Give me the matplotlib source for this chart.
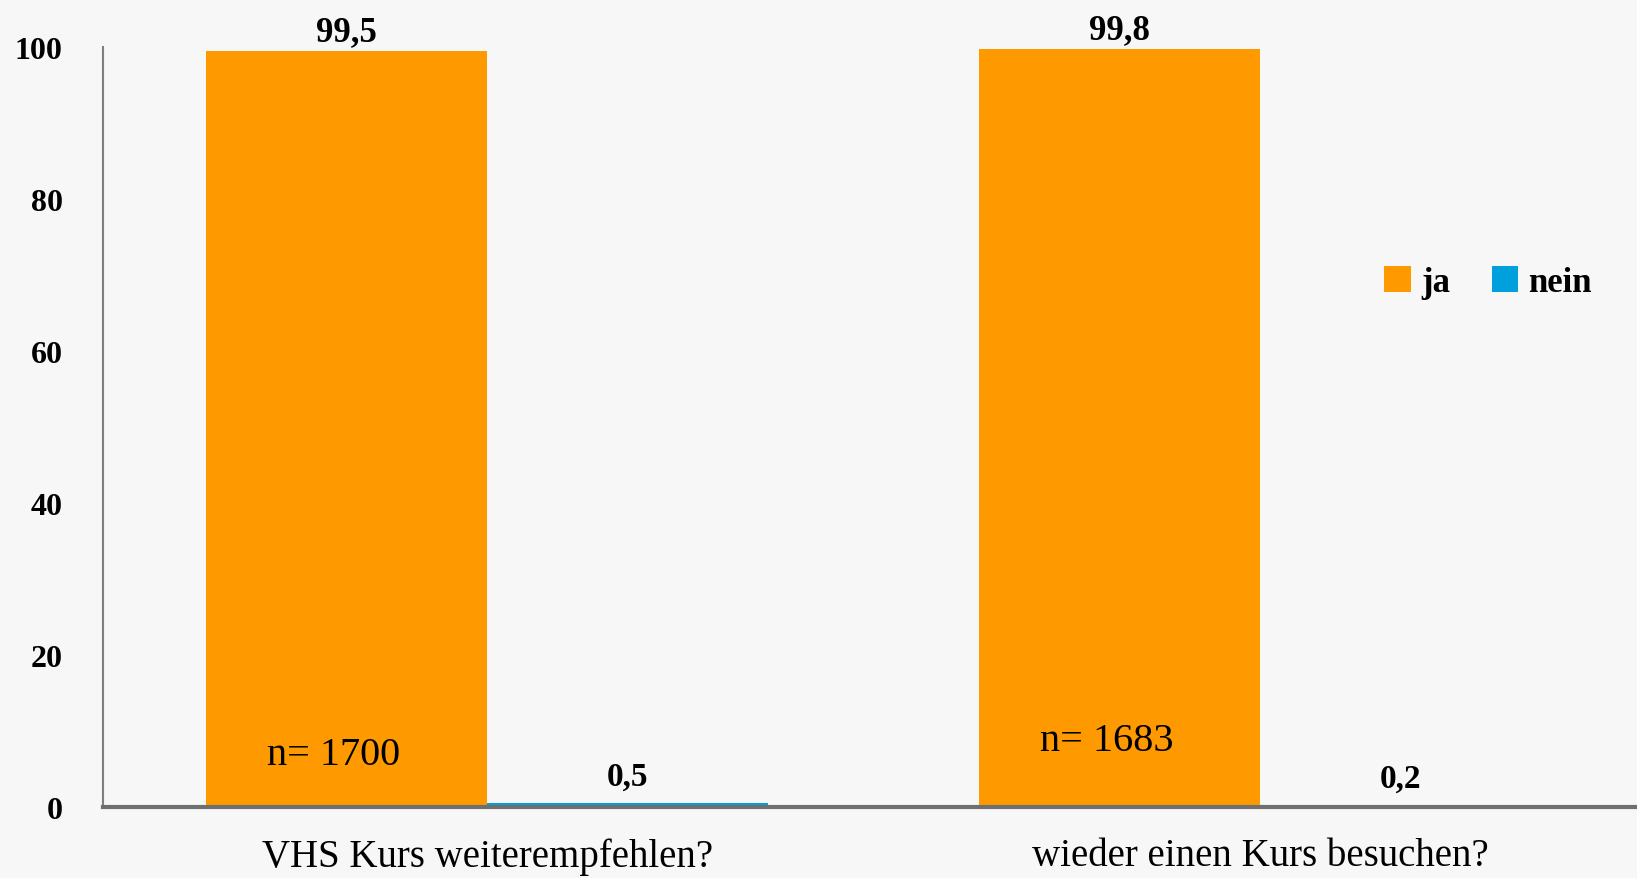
import matplotlib.pyplot as plt
import numpy as np

plt.rcParams['font.family'] = ['Liberation Serif', 'DejaVu Serif']

categories = ['VHS Kurs weiterempfehlen?', 'wieder einen Kurs besuchen?']
ja = [99.5, 99.8]
nein = [0.5, 0.2]
ja_labels = ['99,5', '99,8']
nein_labels = ['0,5', '0,2']
n_labels = ['n= 1700', 'n= 1683']
n_pos = [6.9, 8.7]

orange = '#FF9900'
blue = '#00A0DC'
bg = '#F7F7F7'

fig = plt.figure(figsize=(16.37, 8.79), dpi=100, facecolor=bg)
ax = fig.add_axes([0.063, 0.081, 0.937, 0.864])
ax.set_facecolor(bg)

x = np.arange(len(categories))
w = 0.3635
b1 = ax.bar(x - w / 2, ja, w, color=orange, label='ja')
b2 = ax.bar(x + w / 2, nein, w, color=blue, label='nein')

for rect, lab in zip(b1, ja_labels):
    ax.annotate(lab, (rect.get_x() + rect.get_width() / 2, rect.get_height()),
                xytext=(0, 2), textcoords='offset points', ha='center', va='bottom',
                fontsize=25, fontweight='bold')
for rect, lab in zip(b2, nein_labels):
    ax.annotate(lab, (rect.get_x() + rect.get_width() / 2, rect.get_height()),
                xytext=(0, 8), textcoords='offset points', ha='center', va='bottom',
                fontsize=24, fontweight='bold')
for xi, lab, yp in zip(x, n_labels, n_pos):
    ax.text(xi - w / 2 - 0.017, yp, lab, ha='center', va='center', fontsize=29)

ax.set_xlim(-0.497, 1.488)
ax.set_ylim(0, 100)
ax.set_yticks([0, 20, 40, 60, 80, 100])
ax.set_xticks(x)
ax.set_xticklabels(categories, fontsize=28)
ax.tick_params(axis='both', length=0)
ax.tick_params(axis='y', labelsize=23, pad=29)
ax.tick_params(axis='x', pad=22)
for lab in ax.get_yticklabels():
    lab.set_fontweight('bold')

ax.spines['top'].set_visible(False)
ax.spines['right'].set_visible(False)
ax.spines['left'].set_color('#7f7f7f')
ax.spines['left'].set_linewidth(1.5)
ax.spines['bottom'].set_color('#6f6f6f')
ax.spines['bottom'].set_linewidth(3)

ax.legend(loc='center left', bbox_to_anchor=(0.815, 0.69), ncol=2, frameon=False,
          prop={'size': 25, 'weight': 'bold'}, handlelength=0.75, handleheight=0.75,
          handletextpad=0.3, columnspacing=1.2)

fig.savefig('out.png', dpi=100, facecolor=bg)
